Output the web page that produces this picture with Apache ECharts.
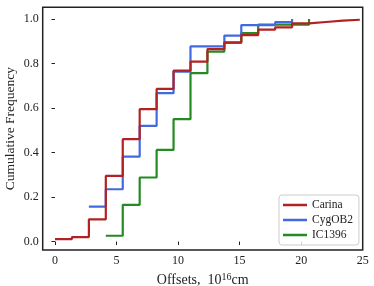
<!DOCTYPE html>
<html><head><meta charset="utf-8">
<script src="https://cdn.jsdelivr.net/npm/echarts@6/dist/echarts.min.js"></script>
<style>html,body{margin:0;padding:0;background:#fff}#c{width:374px;height:286px}</style>
</head><body><div id="c"></div>
<script>
// bin edges (10^16 cm)
const edges = [0, 1.376, 2.752, 4.128, 5.504, 6.88, 8.256, 9.632, 11.008, 12.384, 13.76, 15.136, 16.512, 17.888, 19.264, 20.64, 22.016, 23.392, 24.768];
// cumulative frequency per bin (steps-post), last value at final edge
const carinaX = [0, 1.376, 2.752, 4.128, 5.504, 6.88, 8.256, 9.632, 11.008, 12.384, 13.76, 15.136, 16.512, 17.888, 19.264, 20.64, 22.016, 23.392, 24.768];
const carinaY = [0.011, 0.02, 0.10, 0.295, 0.46, 0.595, 0.686, 0.768, 0.809, 0.865, 0.896, 0.928, 0.953, 0.963, 0.981, 0.987, 0.993, 0.997, 1.0];
const cygX = [2.752, 4.128, 5.504, 6.88, 8.256, 9.632, 11.008, 12.384, 13.76, 15.136, 16.512, 17.888, 19.264];
const cygY = [0.157, 0.235, 0.382, 0.52, 0.667, 0.764, 0.877, 0.877, 0.926, 0.973, 0.973, 0.986, 1.0];
const icX = [4.128, 5.504, 6.88, 8.256, 9.632, 11.008, 12.384, 13.76, 15.136, 16.512, 17.888, 19.264, 20.64];
const icY = [0.026, 0.165, 0.288, 0.412, 0.55, 0.757, 0.854, 0.893, 0.937, 0.975, 0.975, 0.975, 1.0];
const xTicks = [0, 5, 10, 15, 20, 25];
const yTicks = [0, 0.2, 0.4, 0.6, 0.8, 1.0];
const seriesNames = ['Carina', 'CygOB2', 'IC1396'];
const colors = ['#b22222', '#4169e1', '#228b22'];

const FONT = 'Liberation Serif';
function pairs(xs, ys) { return xs.map((x, i) => [x, ys[i]]); }
const chart = echarts.init(document.getElementById('c'), null, {renderer: 'canvas'});
const sets = [[carinaX, carinaY], [cygX, cygY], [icX, icY]];
chart.setOption({
  animation: false,
  textStyle: {fontFamily: FONT},
  grid: {left: 42.7, right: 11.3, top: 7.3, bottom: 36, containLabel: false, outerBoundsMode: 'none', show: true, borderColor: '#222', borderWidth: 1.5, backgroundColor: 'transparent'},
  xAxis: {
    type: 'value', min: -1, max: 25,
    axisLine: {show: false},
    splitLine: {show: false},
    axisTick: {show: true, length: 3.5, lineStyle: {color: '#222'}, customValues: xTicks},
    axisLabel: {customValues: xTicks, color: '#222', fontFamily: FONT, fontSize: 12, margin: 5},
    name: '{a|Offsets,  10}{b|16}{a|cm}',
    nameLocation: 'middle', nameGap: 19,
    nameTextStyle: {rich: {a: {fontFamily: FONT, fontSize: 14, color: '#222'}, b: {fontFamily: FONT, fontSize: 10, color: '#222', verticalAlign: 'top', padding: [0, 0, 6, 0]}}}
  },
  yAxis: {
    type: 'value', min: -0.038, max: 1.053,
    axisLine: {show: false},
    splitLine: {show: false},
    axisTick: {show: true, length: 3.5, lineStyle: {color: '#222'}, customValues: yTicks},
    axisLabel: {customValues: yTicks, color: '#222', fontFamily: FONT, fontSize: 12, margin: 4, formatter: v => v.toFixed(1)},
    name: 'Cumulative Frequency', nameLocation: 'middle', nameGap: 25, nameMoveOverlap: false,
    nameTextStyle: {fontFamily: FONT, fontSize: 13.5, color: '#222'}
  },
  legend: {
    orient: 'vertical', left: 279, top: 195,
    data: seriesNames,
    icon: 'rect', itemWidth: 24, itemHeight: 2.5, itemGap: 3,
    textStyle: {fontFamily: FONT, fontSize: 11.5, color: '#222'},
    backgroundColor: 'rgba(255,255,255,0.8)', borderColor: '#ccc', borderWidth: 1, borderRadius: 3,
    padding: [4, 6, 4, 4]
  },
  series: sets.map((s, i) => ({
    name: seriesNames[i], type: 'line', step: 'end', showSymbol: false, symbol: 'none',
    data: pairs(s[0], s[1]),
    lineStyle: {color: colors[i], width: 2.2},
    itemStyle: {color: colors[i]},
    z: 3 - i
  }))
});
</script></body></html>
